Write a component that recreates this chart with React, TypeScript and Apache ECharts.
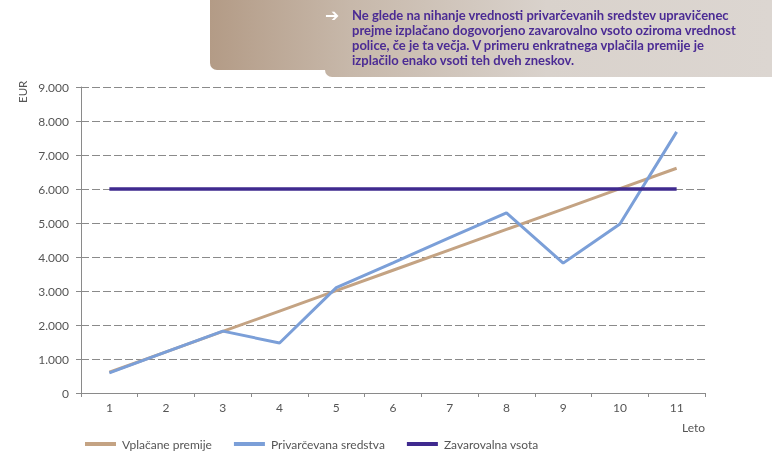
import React, { useEffect, useRef } from "react";
import * as echarts from "echarts";

const years = ["1", "2", "3", "4", "5", "6", "7", "8", "9", "10", "11"];
const premiums = [610, 1210, 1810, 2410, 3010, 3610, 4210, 4810, 5410, 6010, 6610];
const savings = [590, 1210, 1820, 1470, 3100, 3830, 4570, 5300, 3820, 4970, 7680];
const insured = [6000, 6000, 6000, 6000, 6000, 6000, 6000, 6000, 6000, 6000, 6000];
const seriesNames = ["Vplačane premije", "Privarčevana sredstva", "Zavarovalna vsota"];
const noteLines = [
  "Ne glede na nihanje vrednosti privarčevanih sredstev upravičenec",
  "prejme izplačano dogovorjeno zavarovalno vsoto oziroma vrednost",
  "police, če je ta večja. V primeru enkratnega vplačila premije je",
  "izplačilo enako vsoti teh dveh zneskov.",
];

const FONT = "Lato, sans-serif";
const GRAY = "#8a8a8a";
const LABEL = "#555555";
const colors = ["#c4a383", "#7b9fd8", "#3f2a8f"];

export default function App() {
  const ref = useRef<HTMLDivElement>(null);
  useEffect(() => {
    if (!ref.current) return;
    const chart = echarts.init(ref.current, null, { renderer: "svg" });
    const bannerFill = {
      type: "linear",
      x: 210,
      y: 0,
      x2: 772,
      y2: 0,
      global: true,
      colorStops: [
        { offset: 0, color: "#b39b86" },
        { offset: 0.25, color: "#c7b8aa" },
        { offset: 0.6, color: "#d9d2cc" },
        { offset: 1, color: "#dcd6d1" },
      ],
    };
    chart.setOption({
      animation: false,
      textStyle: { fontFamily: FONT },
      grid: { left: 81, right: 67, top: 87, bottom: 60 },
      legend: {
        left: 80,
        top: 433,
        itemWidth: 31,
        itemHeight: 4,
        itemGap: 22,
        icon: "rect",
        textStyle: { color: LABEL, fontSize: 12, fontFamily: FONT, padding: [0, 0, 0, 1] },
        data: seriesNames,
      },
      xAxis: {
        type: "category",
        data: years,
        boundaryGap: true,
        axisLine: { lineStyle: { color: GRAY, width: 1 } },
        axisTick: { show: true, length: 4, lineStyle: { color: GRAY } },
        axisLabel: { color: LABEL, fontSize: 12, margin: 8, fontFamily: FONT },
        splitLine: { show: false },
      },
      yAxis: {
        type: "value",
        min: 0,
        max: 9000,
        interval: 1000,
        axisLine: { show: true, lineStyle: { color: GRAY, width: 1 } },
        axisTick: { show: true, length: 5, lineStyle: { color: GRAY } },
        axisLabel: {
          color: LABEL,
          fontSize: 12,
          margin: 12,
          fontFamily: FONT,
          formatter: (v: number) => (v >= 1000 ? `${Math.floor(v / 1000)}.${String(v % 1000).padStart(3, "0")}` : `${v}`),
        },
        splitLine: { show: true, lineStyle: { color: GRAY, width: 1, type: [8, 3] } },
      },
      series: [
        {
          name: seriesNames[0],
          type: "line",
          data: premiums,
          symbol: "none",
          lineStyle: { color: colors[0], width: 3 },
          itemStyle: { color: colors[0] },
          z: 2,
        },
        {
          name: seriesNames[1],
          type: "line",
          data: savings,
          symbol: "none",
          lineStyle: { color: colors[1], width: 3 },
          itemStyle: { color: colors[1] },
          z: 3,
        },
        {
          name: seriesNames[2],
          type: "line",
          data: insured,
          symbol: "none",
          lineStyle: { color: colors[2], width: 3.5 },
          itemStyle: { color: colors[2] },
          z: 4,
        },
      ],
      graphic: [
        {
          type: "rect",
          shape: { x: 210, y: -10, width: 570, height: 80, r: [0, 0, 0, 7] },
          style: { fill: bannerFill },
          silent: true,
        },
        {
          type: "rect",
          shape: { x: 325, y: -10, width: 455, height: 87, r: [0, 0, 0, 7] },
          style: { fill: bannerFill },
          silent: true,
        },
        {
          type: "text",
          x: 325,
          y: 6,
          style: { text: "➔", fill: "#ffffff", font: "bold 17px 'DejaVu Sans'" },
          silent: true,
        },
        {
          type: "text",
          x: 352,
          y: 7,
          style: {
            text: noteLines.join("\n"),
            fill: "#4b2b94",
            fontFamily: "Lato",
            fontWeight: "bold",
            fontSize: 13,
            lineHeight: 15,
          },
          silent: true,
        },
        {
          type: "text",
          x: 16,
          y: 103,
          rotation: Math.PI / 2,
          style: { text: "EUR", fill: LABEL, fontFamily: FONT, fontSize: 11.5 },
          silent: true,
        },
        {
          type: "text",
          x: 682,
          y: 421,
          style: { text: "Leto", fill: LABEL, fontFamily: FONT, fontSize: 12 },
          silent: true,
        },
      ],
    });
    return () => chart.dispose();
  }, []);
  return <div ref={ref} style={{ position: "fixed", left: 0, top: 0, width: 772, height: 453 }} />;
}
